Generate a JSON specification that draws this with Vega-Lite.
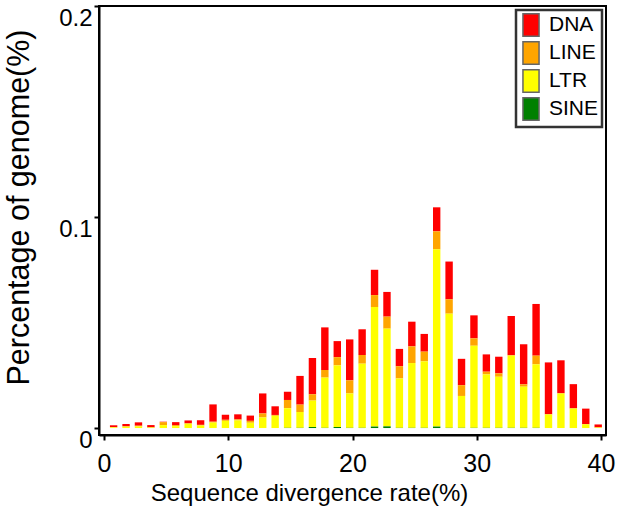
{
  "$schema": "https://vega.github.io/schema/vega-lite/v6.json",
  "width": 507,
  "height": 429,
  "autosize": "none",
  "padding": {"left": 99, "top": 6, "right": 18, "bottom": 89},
  "data": {
    "values": [
      {"rate": 1, "DNA": 0.0008, "LINE": 0.0002, "LTR": 0.0003, "SINE": 0},
      {"rate": 2, "DNA": 0.0010, "LINE": 0.0003, "LTR": 0.0006, "SINE": 0},
      {"rate": 3, "DNA": 0.0016, "LINE": 0.0003, "LTR": 0.0008, "SINE": 0},
      {"rate": 4, "DNA": 0.0011, "LINE": 0, "LTR": 0.0003, "SINE": 0},
      {"rate": 5, "DNA": 0.0002, "LINE": 0.0014, "LTR": 0.0014, "SINE": 0},
      {"rate": 6, "DNA": 0.0014, "LINE": 0.0005, "LTR": 0.0009, "SINE": 0},
      {"rate": 7, "DNA": 0.0013, "LINE": 0.0003, "LTR": 0.0020, "SINE": 0},
      {"rate": 8, "DNA": 0.0022, "LINE": 0.0003, "LTR": 0.0012, "SINE": 0},
      {"rate": 9, "DNA": 0.0082, "LINE": 0.0004, "LTR": 0.0026, "SINE": 0},
      {"rate": 10, "DNA": 0.0024, "LINE": 0.0005, "LTR": 0.0034, "SINE": 0},
      {"rate": 11, "DNA": 0.0024, "LINE": 0.0005, "LTR": 0.0036, "SINE": 0},
      {"rate": 12, "DNA": 0.0025, "LINE": 0.0009, "LTR": 0.0025, "SINE": 0},
      {"rate": 13, "DNA": 0.0095, "LINE": 0.0019, "LTR": 0.0050, "SINE": 0},
      {"rate": 14, "DNA": 0.0041, "LINE": 0.0004, "LTR": 0.0058, "SINE": 0},
      {"rate": 15, "DNA": 0.0039, "LINE": 0.0039, "LTR": 0.0093, "SINE": 0.0001},
      {"rate": 16, "DNA": 0.0136, "LINE": 0.0035, "LTR": 0.0075, "SINE": 0.0001},
      {"rate": 17, "DNA": 0.0172, "LINE": 0.0030, "LTR": 0.0125, "SINE": 0.0005},
      {"rate": 18, "DNA": 0.0202, "LINE": 0.0036, "LTR": 0.0238, "SINE": 0.0001},
      {"rate": 19, "DNA": 0.0076, "LINE": 0.0039, "LTR": 0.0292, "SINE": 0.0005},
      {"rate": 20, "DNA": 0.0194, "LINE": 0.0062, "LTR": 0.0163, "SINE": 0.0001},
      {"rate": 21, "DNA": 0.0122, "LINE": 0.0041, "LTR": 0.0304, "SINE": 0.0001},
      {"rate": 22, "DNA": 0.0120, "LINE": 0.0057, "LTR": 0.0566, "SINE": 0.0007},
      {"rate": 23, "DNA": 0.0117, "LINE": 0.0057, "LTR": 0.0463, "SINE": 0.0008},
      {"rate": 24, "DNA": 0.0082, "LINE": 0.0058, "LTR": 0.0234, "SINE": 0.0001},
      {"rate": 25, "DNA": 0.0117, "LINE": 0.0079, "LTR": 0.0307, "SINE": 0.0001},
      {"rate": 26, "DNA": 0.0084, "LINE": 0.0046, "LTR": 0.0315, "SINE": 0.0001},
      {"rate": 27, "DNA": 0.0114, "LINE": 0.0085, "LTR": 0.0840, "SINE": 0.0007},
      {"rate": 28, "DNA": 0.0179, "LINE": 0.0068, "LTR": 0.0541, "SINE": 0.0001},
      {"rate": 29, "DNA": 0.0125, "LINE": 0.0051, "LTR": 0.0151, "SINE": 0.0001},
      {"rate": 30, "DNA": 0.0109, "LINE": 0.0035, "LTR": 0.0389, "SINE": 0.0001},
      {"rate": 31, "DNA": 0.0082, "LINE": 0.0013, "LTR": 0.0253, "SINE": 0.0001},
      {"rate": 32, "DNA": 0.0079, "LINE": 0.0016, "LTR": 0.0242, "SINE": 0.0001},
      {"rate": 33, "DNA": 0.0185, "LINE": 0.0003, "LTR": 0.0342, "SINE": 0.0001},
      {"rate": 34, "DNA": 0.0190, "LINE": 0.0011, "LTR": 0.0195, "SINE": 0.0001},
      {"rate": 35, "DNA": 0.0245, "LINE": 0.0041, "LTR": 0.0301, "SINE": 0.0001},
      {"rate": 36, "DNA": 0.0246, "LINE": 0, "LTR": 0.0065, "SINE": 0},
      {"rate": 37, "DNA": 0.0155, "LINE": 0.0003, "LTR": 0.0163, "SINE": 0},
      {"rate": 38, "DNA": 0.0115, "LINE": 0, "LTR": 0.0093, "SINE": 0},
      {"rate": 39, "DNA": 0.0074, "LINE": 0, "LTR": 0.0018, "SINE": 0},
      {"rate": 40, "DNA": 0.0014, "LINE": 0, "LTR": 0.0003, "SINE": 0}
    ]
  },
  "transform": [{"fold": ["DNA", "LINE", "LTR", "SINE"], "as": ["type", "pct"]}],
  "mark": {"type": "bar", "size": 7.4, "xOffset": -2.8, "clip": true},
  "encoding": {
    "x": {
      "field": "rate",
      "type": "quantitative",
      "scale": {"domain": [0, 40], "nice": false, "zero": false},
      "axis": {
        "values": [0, 10, 20, 30, 40],
        "format": "d",
        "title": "Sequence divergence rate(%)",
        "labelFontSize": 25,
        "labelPadding": 11,
        "titleFontSize": 24,
        "titlePadding": 5,
        "titleX": 210
      }
    },
    "y": {
      "field": "pct",
      "type": "quantitative",
      "stack": "zero",
      "scale": {"domain": [-0.0033, 0.2], "nice": false, "zero": false},
      "axis": {
        "values": [0, 0.1, 0.2],
        "labelExpr": "datum.value == 0 ? '0' : format(datum.value, '.1f')",
        "title": "Percentage of genome(%)",
        "labelFontSize": 24,
        "labelBaseline": "top",
        "labelPadding": 2,
        "titleFontSize": 30.5,
        "titlePadding": 12,
        "titleX": -65,
        "titleY": 201
      }
    },
    "color": {
      "field": "type",
      "type": "nominal",
      "scale": {
        "domain": ["DNA", "LINE", "LTR", "SINE"],
        "range": ["#ff0000", "#ffa500", "#ffff00", "#008000"]
      },
      "legend": {
        "title": null,
        "orient": "top-right",
        "offset": 4,
        "padding": 3,
        "strokeColor": "#333333",
        "fillColor": "white",
        "symbolType": "M-0.72,-1H0.72V1H-0.72Z",
        "symbolSize": 500,
        "symbolStrokeColor": "#666666",
        "symbolStrokeWidth": 1.5,
        "symbolOpacity": 1,
        "labelFontSize": 21,
        "labelOffset": 6,
        "rowPadding": -2
      }
    },
    "order": {"field": "type", "sort": "descending"}
  },
  "config": {
    "font": "Liberation Sans",
    "view": {"stroke": "black", "strokeWidth": 2},
    "axis": {
      "grid": false,
      "domainColor": "black",
      "domainWidth": 2,
      "tickColor": "black",
      "tickWidth": 2,
      "tickSize": 5,
      "labelColor": "black",
      "titleColor": "black",
      "titleFontWeight": "normal",
      "labelFont": "Liberation Sans",
      "titleFont": "Liberation Sans"
    },
    "legend": {"labelColor": "black", "labelFont": "Liberation Sans", "strokeWidth": 2.5}
  }
}
